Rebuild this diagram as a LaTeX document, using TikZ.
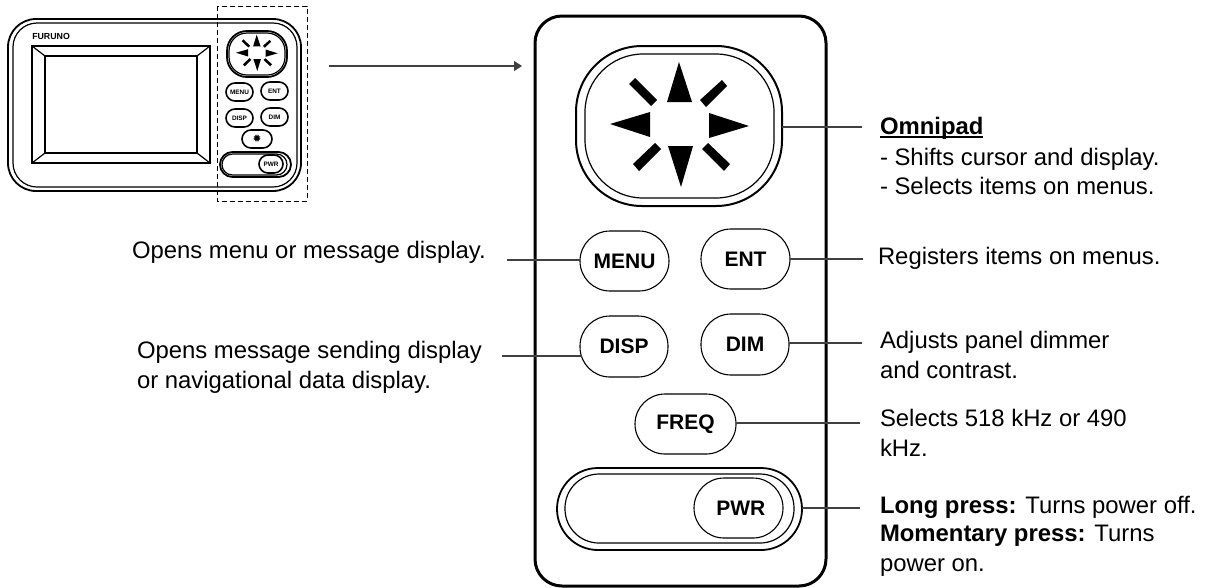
\documentclass[tikz,border=0pt]{standalone}
\usepackage{fontspec}
\setmainfont{Liberation Sans}
\newfontfamily\symfont{DejaVu Sans}
\usetikzlibrary{arrows.meta}
\def\u{0.75pt}
\newcommand\bx[8]{\node[draw,inner sep=0pt,outer sep=0pt,rounded corners=#6*\u,minimum width=(#4-#2)*\u,minimum height=(#5-#3)*\u,#7] (#1) at ({(#2+#4)/2},{(#3+#5)/2}) {#8};}
\newcommand\ulbold[1]{\setbox0\hbox{\bfseries #1}\rlap{\rule[-3.3pt]{\wd0}{1.5pt}}\box0}
\newcommand\lowered[1]{\raisebox{-1.5pt}{#1}}
\newcommand\padmarks{%
  \fill (679,62) -- (692,102) -- (667,102) -- cycle;
  \fill (610,124) -- (650,112) -- (650,137) -- cycle;
  \fill (749,126) -- (709,113) -- (709,138) -- cycle;
  \fill (681,187) -- (668,146) -- (693,146) -- cycle;
  \fill (629,84) -- (635,78) -- (657,100) -- (651,106) -- cycle;
  \fill (700,100) -- (722,80) -- (727,86) -- (706,107) -- cycle;
  \fill (633,164) -- (655,143) -- (661,149) -- (639,171) -- cycle;
  \fill (702,149) -- (708,143) -- (730,164) -- (724,171) -- cycle;
}
\tikzset{
  x=0.75pt,y=-0.75pt,
  heavy/.style={line width=3*\u},
  med/.style={line width=1.8*\u},
  thin1/.style={line width=1.2*\u},
  lead/.style={line width=1.2*\u,draw=black!75},
  bigbtn/.style={line width=1.1*\u,font=\fontsize{15.75pt}{18pt}\bfseries},
  minibtn/.style={line width=1.6*\u,font=\fontsize{4.8pt}{6pt}\bfseries},
  label/.style={anchor=base west,inner sep=0pt,outer sep=0pt,align=left,font=\fontsize{17.9pt}{22pt}\selectfont},
}
\begin{document}
\begin{tikzpicture}
\useasboundingbox (0,0) rectangle (1205,587);
% small unit
\bx{devO}{8}{19}{301}{191}{28}{med}{}
\bx{devI}{13}{23}{297}{187}{24}{thin1}{}
\node[anchor=base west,inner sep=0pt,font=\fontsize{6.6pt}{8pt}\bfseries] (furuno) at (32,39) {FURUNO};
\bx{scrO}{32}{46}{210}{163}{0}{med}{}
\bx{scrI}{45}{56}{197}{153}{0}{med}{}
\draw[thin1] (scrO.north west) -- (scrI.north west) (scrO.north east) -- (scrI.north east)
  (scrO.south west) -- (scrI.south west) (scrO.south east) -- (scrI.south east);
\bx{sPadO}{227}{31}{287}{77}{20}{med}{}
\bx{sPadI}{229}{33}{285}{75}{18}{thin1}{}
\begin{scope}[shift={(257,53)},xscale=.30,yscale=.29,shift={(-680,-125)}]
\padmarks
\end{scope}
\bx{sMenu}{226}{83}{253}{101}{9}{minibtn}{MENU}
\bx{sEnt}{261}{82}{288}{100}{9}{minibtn}{ENT}
\bx{sDisp}{226}{109}{253}{127}{9}{minibtn}{DISP}
\bx{sDim}{261}{108}{288}{126}{9}{minibtn}{DIM}
\bx{sFreq}{242}{130}{272}{148}{9}{minibtn}{\symfont\fontsize{8pt}{8pt}\selectfont ✹}
\bx{sPwrO}{220}{152}{291}{177}{12.5}{med}{}
\bx{sPwrI}{222}{154}{287}{175}{10.5}{thin1}{}
\bx{sPwr}{259}{155}{283}{173}{9}{minibtn}{PWR}
\draw[dash pattern=on 5*\u off 3*\u,line width=1*\u] (217,6) rectangle (307,201);
% callout arrow
\coordinate (arrA) at (329,66);
\coordinate (arrB) at (522,66);
\draw[lead,-{Triangle[length=8*\u,width=10*\u]}] (arrA) -- (arrB);
% panel
\bx{panel}{535}{16}{826}{586}{27}{heavy}{}
\bx{padO}{576}{46}{782}{206}{66}{med,line width=2*\u}{}
\bx{padI}{585}{54}{774}{198}{58}{thin1}{}
\padmarks
\bx{menu}{580}{231}{669}{291}{30}{bigbtn}{MENU}
\bx{ent}{701}{229}{790}{289}{30}{bigbtn}{\lowered{ENT}}
\bx{disp}{580}{316}{668}{377}{30}{bigbtn}{DISP}
\bx{dim}{701}{314}{789}{375}{30}{bigbtn}{\lowered{DIM}}
\bx{freq}{635}{394}{736}{454}{30}{bigbtn}{FREQ}
\bx{pwrO}{557}{468}{802}{550}{41}{med,line width=1.8*\u}{}
\bx{pwrI}{565}{474}{794}{543}{34}{thin1}{}
\bx{pwr}{694}{478}{783}{538}{30}{bigbtn}{\hspace*{3.5pt}\lowered{PWR}}
% labels
\node[label] (tOmni) at (880,134) {\ulbold{Omnipad}};
\node[label] (tShift) at (880,165) {- Shifts cursor and display.};
\node[label] (tSel) at (880,194) {- Selects items on menus.};
\node[label] (tReg) at (878,264) {Registers items on menus.};
\node[label] (tAdj1) at (880,348) {Adjusts panel dimmer};
\node[label] (tAdj2) at (880,378) {and contrast.};
\node[label] (tFr1) at (880,426) {Selects 518 kHz or 490};
\node[label] (tFr2) at (880,456) {kHz.};
\node[label] (tLong) at (880,513) {\textbf{Long press:} Turns power off.};
\node[label] (tMom) at (880,541) {\textbf{Momentary press:} Turns};
\node[label] (tOn) at (880,571) {power on.};
\node[label] (tMenu) at (132,258) {Opens menu or message display.};
\node[label] (tDisp1) at (137,358) {Opens message sending display};
\node[label] (tDisp2) at (137,388) {or navigational data display.};
% connectors
\coordinate (eOmni) at (862,127);
\coordinate (eEnt) at (863,259);
\coordinate (eDim) at (862,343);
\coordinate (eFreq) at (860,423);
\coordinate (ePwr) at (860,508);
\coordinate (eMenu) at (507,260);
\coordinate (eDisp) at (502,356);
\draw[lead] (padO.east |- eOmni) -- (eOmni);
\draw[lead] (ent.east |- eEnt) -- (eEnt);
\draw[lead] (dim.east |- eDim) -- (eDim);
\draw[lead] (freq.east |- eFreq) -- (eFreq);
\draw[lead] (pwrO.east |- ePwr) -- (ePwr);
\draw[lead] (eMenu) -- (eMenu -| menu.west);
\draw[lead] (eDisp) -- ([xshift=1.2pt]eDisp -| disp.west);
\end{tikzpicture}
\end{document}
